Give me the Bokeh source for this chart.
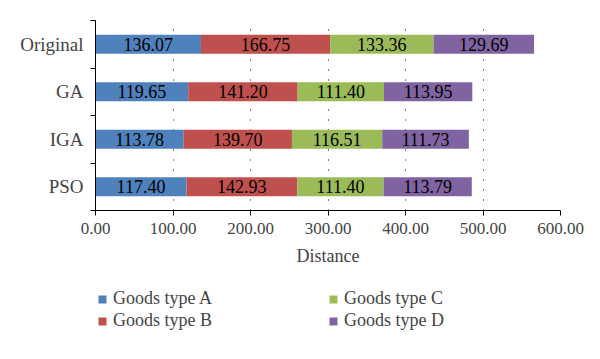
from bokeh.plotting import figure
from bokeh.layouts import column
from bokeh.models import (ColumnDataSource, Range1d, FixedTicker, SingleIntervalTicker,
                          NumeralTickFormatter, Legend, LegendItem)
from bokeh.embed import file_html
from bokeh.resources import INLINE

categories = ["Original", "GA", "IGA", "PSO"]
goods_a = [136.07, 119.65, 113.78, 117.40]
goods_b = [166.75, 141.20, 139.70, 142.93]
goods_c = [133.36, 111.40, 116.51, 111.40]
goods_d = [129.69, 113.95, 111.73, 113.79]
series_names = ["Goods type A", "Goods type B", "Goods type C", "Goods type D"]
colors = ["#4F81BD", "#C0504D", "#9BBB59", "#8064A2"]

FONT = "Liberation Serif"
n = len(categories)
ypos = [n - 0.5 - i for i in range(n)]

src = ColumnDataSource(dict(y=ypos, A=goods_a, B=goods_b, C=goods_c, D=goods_d))

p = figure(width=600, height=270, output_backend="svg", toolbar_location=None,
           x_range=Range1d(0, 600), y_range=Range1d(0, n),
           min_border_left=95, min_border_right=40, min_border_top=20, min_border_bottom=60)
p.outline_line_color = None
p.background_fill_color = "white"

rends = p.hbar_stack(["A", "B", "C", "D"], y="y", height=0.4, color=colors, source=src,
                     line_color=None)

# value labels
cols = [goods_a, goods_b, goods_c, goods_d]
lx, ly, lt = [], [], []
for i in range(n):
    left = 0.0
    for s in cols:
        v = s[i]
        lx.append(left + v / 2)
        ly.append(ypos[i])
        lt.append(f"{v:.2f}")
        left += v
p.text(x=lx, y=ly, text=lt, text_align="center", text_baseline="middle",
       text_font=FONT, text_font_size="18px", text_color="black")

# grid
p.xgrid.grid_line_color = "black"
p.xgrid.grid_line_dash = "1 9"
p.xgrid.grid_line_width = 1
p.ygrid.grid_line_color = None

# x axis
xa = p.xaxis[0]
xa.ticker = SingleIntervalTicker(interval=100, num_minor_ticks=0)
xa.formatter = NumeralTickFormatter(format="0.00")
xa.axis_label = "Distance"
xa.axis_label_text_font = FONT
xa.axis_label_text_font_size = "18px"
xa.axis_label_text_font_style = "normal"
xa.axis_label_standoff = 9
xa.major_label_text_font = FONT
xa.major_label_text_font_size = "17px"
xa.major_label_standoff = 7
xa.major_tick_out = 5
xa.major_tick_in = 0
xa.minor_tick_out = 0
xa.minor_tick_in = 0
xa.axis_line_color = "black"
xa.major_tick_line_color = "black"

# y axis
ya = p.yaxis[0]
ya.ticker = FixedTicker(ticks=ypos, minor_ticks=list(range(n + 1)))
ya.major_label_overrides = {ypos[i]: categories[i] for i in range(n)}
ya.major_label_text_font = FONT
ya.major_label_text_font_size = "19px"
ya.major_label_standoff = 7
ya.major_tick_out = 0
ya.major_tick_in = 0
ya.minor_tick_out = 5
ya.minor_tick_in = 0
ya.minor_tick_line_color = "black"
ya.axis_line_color = "black"

# legend figure below (same data, bars kept out of its view)
lf = figure(width=600, height=80, output_backend="svg", toolbar_location=None,
            x_axis_location=None, y_axis_location=None,
            x_range=Range1d(0, 600), y_range=Range1d(100, 101),
            min_border_left=0, min_border_right=0, min_border_top=0, min_border_bottom=0)
lf.grid.visible = False
lf.outline_line_color = None
lrends = lf.hbar_stack(["A", "B", "C", "D"], y="y", height=0.4, color=colors, source=src,
                       line_color=None)

def make_legend(idx, loc):
    items = [LegendItem(label=series_names[k], renderers=[lrends[k]]) for k in idx]
    return Legend(items=items, location=loc, orientation="vertical",
                  glyph_width=10, glyph_height=10, label_standoff=6, spacing=1,
                  label_height=18, padding=0, margin=0,
                  label_text_font=FONT, label_text_font_size="18px",
                  border_line_color=None, background_fill_alpha=0)

lf.add_layout(make_legend([0, 1], (2, 19)), "center")
lf.add_layout(make_legend([2, 3], (233, 19)), "center")

layout = column(p, lf, spacing=0)
open("out.html", "w").write(file_html(layout, INLINE))
